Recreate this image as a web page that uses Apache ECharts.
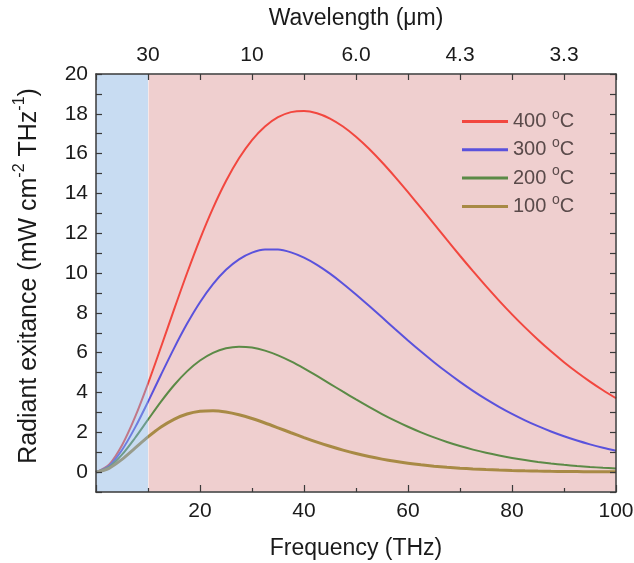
<!DOCTYPE html>
<html>
<head>
<meta charset="utf-8">
<script src="https://cdn.jsdelivr.net/npm/echarts@6/dist/echarts.min.js"></script>
<style>html,body{margin:0;padding:0;background:#fff}#c{width:634px;height:563px}</style>
</head>
<body>
<div id="c"></div>
<script>
// Frequency samples (THz)
const frequency = [0, 2.5, 5, 7.5, 10, 12.5, 15, 17.5, 20, 22.5, 25, 27.5, 30, 32.5, 35, 37.5, 40,
  42.5, 45, 47.5, 50, 52.5, 55, 57.5, 60, 62.5, 65, 67.5, 70, 72.5, 75, 77.5, 80,
  82.5, 85, 87.5, 90, 92.5, 95, 97.5, 100];
// Radiant exitance (mW cm^-2 THz^-1)
const exitance400 = [0, 0.371, 1.350, 2.761, 4.448, 6.284, 8.159, 9.989, 11.707, 13.262, 14.622, 15.764, 16.679,
  17.365, 17.830, 18.085, 18.145, 18.031, 17.763, 17.361, 16.847, 16.242, 15.564, 14.832, 14.062, 13.269,
  12.465, 11.662, 10.869, 10.093, 9.340, 8.617, 7.925, 7.269, 6.649, 6.067, 5.522, 5.015, 4.545, 4.111, 3.710];
const exitance300 = [0, 0.310, 1.112, 2.233, 3.531, 4.889, 6.217, 7.448, 8.534, 9.444, 10.164, 10.689, 11.025,
  11.184, 11.181, 11.037, 10.773, 10.410, 9.968, 9.467, 8.924, 8.355, 7.774, 7.192, 6.617, 6.059,
  5.523, 5.013, 4.532, 4.082, 3.664, 3.278, 2.924, 2.600, 2.306, 2.040, 1.801, 1.585, 1.393, 1.221, 1.069];
const exitance200 = [0, 0.250, 0.875, 1.712, 2.632, 3.539, 4.363, 5.059, 5.604, 5.989, 6.217, 6.300, 6.256,
  6.104, 5.865, 5.562, 5.211, 4.832, 4.437, 4.040, 3.650, 3.275, 2.918, 2.586, 2.278, 1.997,
  1.743, 1.514, 1.310, 1.129, 0.970, 0.831, 0.709, 0.603, 0.512, 0.433, 0.366, 0.308, 0.259, 0.217, 0.182];
const exitance100 = [0, 0.191, 0.641, 1.202, 1.766, 2.264, 2.653, 2.918, 3.059, 3.088, 3.023, 2.884, 2.692,
  2.467, 2.225, 1.978, 1.736, 1.507, 1.296, 1.104, 0.933, 0.783, 0.652, 0.540, 0.445, 0.365,
  0.297, 0.241, 0.195, 0.157, 0.126, 0.101, 0.081, 0.064, 0.051, 0.040, 0.032, 0.025, 0.020, 0.015, 0.012];
const seriesNames = ['400 °C', '300 °C', '200 °C', '100 °C'];
// Top axis: wavelength (µm) labels at these frequencies (THz)
const wavelengthPositions = [10, 30, 50, 70, 90];
const wavelengthLabels = ['30', '10', '6.0', '4.3', '3.3'];
// Shaded bands (THz)
const blueBand = [0, 10];
const pinkBand = [10, 100];

const colors = ['#f2473f', '#5a52dc', '#5b8a46', '#a88a45'];
const widths = [2, 2, 2, 3];
const font = 'Liberation Sans, Arial, sans-serif';
const axisColor = '#3a3a3a';
const textColor = '#1a1a1a';
const legendColor = '#5a4a4a';
const allData = [exitance400, exitance300, exitance200, exitance100];

const chart = echarts.init(document.getElementById('c'), null, {renderer: 'canvas'});

const series = allData.map((arr, i) => ({
  name: seriesNames[i],
  type: 'line',
  xAxisIndex: 0,
  yAxisIndex: 0,
  data: frequency.map((f, k) => [f, arr[k]]),
  smooth: 0.3,
  showSymbol: false,
  symbol: 'none',
  z: 2,
  lineStyle: {color: colors[i], width: widths[i]},
  itemStyle: {color: colors[i]}
}));
series[0].markArea = {
  silent: true,
  z: 1,
  itemStyle: {color: '#efcfcf', borderColor: '#ffffff', borderWidth: 1},
  data: [[{xAxis: pinkBand[0]}, {xAxis: pinkBand[1]}]]
};
series[3].markArea = {
  silent: true,
  z: 3,
  itemStyle: {color: 'rgba(133,177,226,0.45)'},
  data: [[{xAxis: blueBand[0]}, {xAxis: blueBand[1]}]]
};

const tickStyle = {color: axisColor, width: 1.2};

chart.setOption({
  animation: false,
  backgroundColor: '#ffffff',
  textStyle: {fontFamily: font},
  grid: {left: 96, right: 18, top: 74, bottom: 71, containLabel: false, outerBoundsMode: 'none'},
  legend: {
    data: seriesNames,
    orient: 'vertical',
    left: 462,
    top: 108,
    padding: 0,
    icon: 'rect',
    itemWidth: 46,
    itemHeight: 3,
    itemGap: 4.8,
    formatter: name => name.replace('°', '{sup|o}'),
    textStyle: {fontSize: 20, color: legendColor, fontFamily: font,
      rich: {sup: {fontSize: 14, padding: [0, 0, 13, 0], color: legendColor, fontFamily: font}}}
  },
  xAxis: [{
    type: 'value',
    position: 'bottom',
    min: 0, max: 100, interval: 20,
    z: 10,
    axisLine: {show: true, onZero: false, lineStyle: {color: axisColor, width: 1.5}},
    axisTick: {show: true, inside: true, length: 7, lineStyle: tickStyle},
    minorTick: {show: true, splitNumber: 2, length: 4, lineStyle: tickStyle},
    splitLine: {show: false},
    axisLabel: {fontSize: 21, color: textColor, margin: 9, fontFamily: font,
      formatter: v => (v === 0 ? '' : String(v))},
    name: 'Frequency (THz)',
    nameLocation: 'middle',
    nameGap: 45,
    nameTextStyle: {fontSize: 23, color: textColor, fontFamily: font}
  }, {
    type: 'value',
    position: 'top',
    min: 0, max: 100, interval: 10,
    z: 10,
    axisLine: {show: true, onZero: false, lineStyle: {color: axisColor, width: 1.5}},
    axisTick: {show: true, inside: true, length: 6, lineStyle: tickStyle},
    splitLine: {show: false},
    axisLabel: {fontSize: 21, color: textColor, margin: 8, fontFamily: font,
      formatter: v => {
        const idx = wavelengthPositions.indexOf(v);
        return idx >= 0 ? wavelengthLabels[idx] : '';
      }},
    name: 'Wavelength (μm)',
    nameLocation: 'middle',
    nameGap: 44,
    nameTextStyle: {fontSize: 23, color: textColor, fontFamily: font}
  }],
  yAxis: [{
    type: 'value',
    position: 'left',
    min: -1, max: 20, interval: 1,
    z: 10,
    axisLine: {show: true, onZero: false, lineStyle: {color: axisColor, width: 1.5}},
    axisTick: {show: true, inside: true, length: 6, lineStyle: tickStyle},
    splitLine: {show: false},
    axisLabel: {fontSize: 21, color: textColor, margin: 8, fontFamily: font,
      formatter: v => (v >= 0 && v % 2 === 0 ? String(v) : '')},
    name: 'Radiant exitance (mW cm{sup|-2} THz{sup|-1})',
    nameLocation: 'middle',
    nameRotate: 90,
    nameGap: 50,
    nameTextStyle: {fontSize: 25, color: textColor, fontFamily: font, padding: [0, 0, 0, 14],
      rich: {sup: {fontSize: 16, padding: [0, 0, 18, 0], color: textColor, fontFamily: font}}}
  }, {
    type: 'value',
    position: 'right',
    min: -1, max: 20, interval: 1,
    z: 10,
    axisLine: {show: true, onZero: false, lineStyle: {color: axisColor, width: 1.5}},
    axisTick: {show: true, inside: true, length: 6, lineStyle: tickStyle},
    splitLine: {show: false},
    axisLabel: {show: false}
  }],
  series: series
});
</script>
</body>
</html>
